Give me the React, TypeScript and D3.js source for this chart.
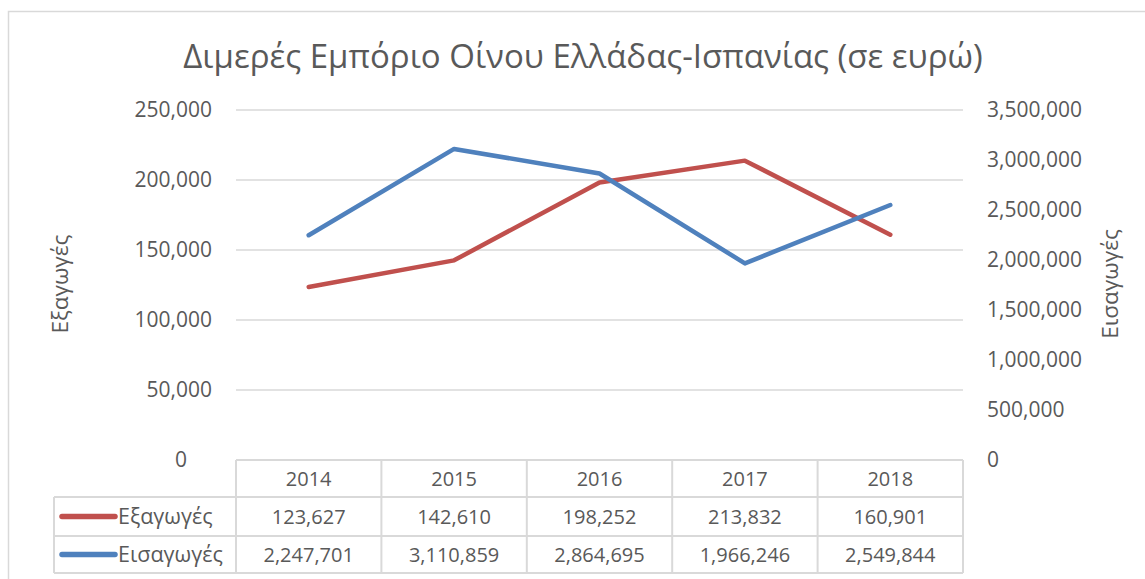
import React from "react"
import * as d3 from "d3"

// chart values
const years = ["2014", "2015", "2016", "2017", "2018"]
const exportsVals = [123627, 142610, 198252, 213832, 160901]
const importsVals = [2247701, 3110859, 2864695, 1966246, 2549844]
const leftTicks = [0, 50000, 100000, 150000, 200000, 250000]
const rightTicks = [0, 500000, 1000000, 1500000, 2000000, 2500000, 3000000, 3500000]

const W = 1145, H = 579
const plot = { left: 236, right: 963, top: 110, bottom: 460 }
const rows = [460, 497, 536, 573] // table row lines
const legendLeft = 54
const txt = "#595959", grid = "#d9d9d9"
const red = "#C0504D", blue = "#4F81BD"
const font = "'Open Sans', sans-serif"

export default function App() {
  const x = d3.scalePoint().domain(years).range([plot.left, plot.right]).padding(0.5)
  const step = x.step()
  const yL = d3.scaleLinear().domain([0, 250000]).range([plot.bottom, plot.top])
  const yR = d3.scaleLinear().domain([0, 3500000]).range([plot.bottom, plot.top])
  const fmt = d3.format(",")

  const lineL = d3.line<number>().x((d, i) => x(years[i])!).y(d => yL(d))
  const lineR = d3.line<number>().x((d, i) => x(years[i])!).y(d => yR(d))

  const series = [
    { name: "Εξαγωγές", vals: exportsVals, color: red },
    { name: "Εισαγωγές", vals: importsVals, color: blue },
  ]
  const colEdges = years.map(y => x(y)! - step / 2).concat([plot.right])

  return (
    <svg width={W} height={H} style={{ position: "absolute", left: 0, top: 0, background: "#fff" }}
      fontFamily={font}>
      <rect x={8.5} y={11.5} width={W + 20} height={H + 20} fill="#fff" stroke={grid} strokeWidth={1.5} />

      <text x={583} y={68} textAnchor="middle" fontSize={33} fill={txt}>
        Διμερές Εμπόριο Οίνου Ελλάδας-Ισπανίας (σε ευρώ)
      </text>

      {/* gridlines */}
      {leftTicks.filter(t => t > 0).map(t => (
        <line key={t} x1={plot.left} x2={plot.right} y1={yL(t)} y2={yL(t)} stroke={grid} strokeWidth={1.5} />
      ))}

      {/* left axis labels */}
      {leftTicks.map(t => (
        <text key={t} x={t === 0 ? 187 : 212} y={yL(t)} dy="0.35em" textAnchor="end" fontSize={21} fill={txt}>
          {fmt(t)}
        </text>
      ))}
      {/* right axis labels */}
      {rightTicks.map(t => (
        <text key={t} x={987} y={yR(t)} dy="0.35em" textAnchor="start" fontSize={21} fill={txt}>
          {fmt(t)}
        </text>
      ))}

      <text transform="translate(68,284) rotate(-90)" textAnchor="middle" fontSize={22.5} fill={txt}>Εξαγωγές</text>
      <text transform="translate(1118,284) rotate(-90)" textAnchor="middle" fontSize={22.5} fill={txt}>Εισαγωγές</text>

      {/* data table */}
      <g stroke={grid} strokeWidth={2}>
        <line x1={plot.left} x2={plot.right} y1={rows[0]} y2={rows[0]} />
        {rows.slice(1).map(r => <line key={r} x1={legendLeft} x2={plot.right} y1={r} y2={r} />)}
        {colEdges.map(e => <line key={e} x1={e} x2={e} y1={rows[0]} y2={rows[3]} />)}
        <line x1={legendLeft} x2={legendLeft} y1={rows[1]} y2={rows[3]} />
      </g>
      {years.map(y => (
        <text key={y} x={x(y)} y={(rows[0] + rows[1]) / 2} dy="0.35em" textAnchor="middle" fontSize={20} fill={txt}>{y}</text>
      ))}
      {series.map((s, si) => {
        const cy = (rows[si + 1] + rows[si + 2]) / 2
        return (
          <g key={s.name}>
            <line x1={62} x2={115} y1={cy} y2={cy} stroke={s.color} strokeWidth={5.5} strokeLinecap="round" />
            <text x={118} y={cy} dy="0.35em" fontSize={21.5} fill={txt}>{s.name}</text>
            {s.vals.map((v, i) => (
              <text key={i} x={x(years[i])} y={cy} dy="0.35em" textAnchor="middle" fontSize={20} fill={txt}>{fmt(v)}</text>
            ))}
          </g>
        )
      })}

      {/* series lines */}
      <path d={lineL(exportsVals)!} fill="none" stroke={red} strokeWidth={4.5} strokeLinejoin="round" strokeLinecap="round" />
      <path d={lineR(importsVals)!} fill="none" stroke={blue} strokeWidth={4.5} strokeLinejoin="round" strokeLinecap="round" />
    </svg>
  )
}
